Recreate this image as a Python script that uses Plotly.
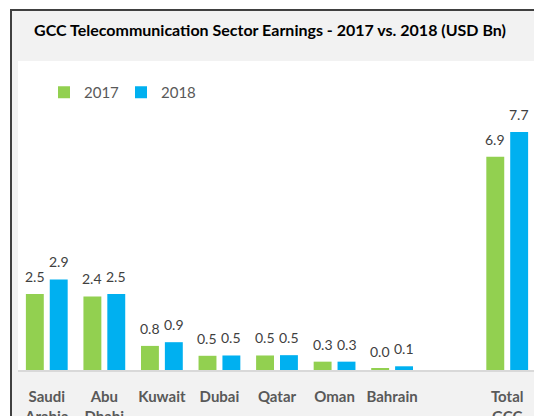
import plotly.graph_objects as go

categories = ["Saudi<br>Arabia", "Abu<br>Dhabi", "Kuwait", "Dubai", "Qatar",
              "Oman", "Bahrain", " ", "Total<br>GCC"]
earnings_2017 = [2.46, 2.38, 0.78, 0.46, 0.47, 0.27, 0.04, None, 6.9]
earnings_2018 = [2.93, 2.46, 0.90, 0.47, 0.48, 0.27, 0.12, None, 7.7]
series_names = ["2017", "2018"]

GREEN = "#92d050"
BLUE = "#00b0f0"
FONT = "Lato"

# the page body has an 8px margin, so the figure is 8px smaller than the window
OFF = 8
W, H = 542 - OFF, 416 - OFF
ML, MR, MT, MB = 10, 6, 53, 46
PW = W - ML - MR
PH = H - MT - MB


def px_to_paper_x(px):
    return (px - OFF - ML) / PW


def px_to_paper_y(py):
    return (H - MB - (py - OFF)) / PH


fig = go.Figure()
for name, vals, col in zip(series_names, [earnings_2017, earnings_2018], [GREEN, BLUE]):
    fig.add_trace(go.Bar(x=categories, y=vals, name=name, marker_color=col,
                         marker_line_width=0, hoverinfo="skip"))

annotations = []
for vals, shift in [(earnings_2017, -12), (earnings_2018, 12)]:
    for c, v in zip(categories, vals):
        if v is None:
            continue
        annotations.append(dict(x=c, y=v, xref="x", yref="y", text=f"{v:.1f}",
                                showarrow=False, xshift=shift, yshift=7,
                                yanchor="bottom",
                                font=dict(family=FONT, size=14, color="#404040")))

shapes = [
    dict(type="rect", xref="paper", yref="paper", layer="below",
         x0=px_to_paper_x(11), x1=px_to_paper_x(539.5),
         y0=px_to_paper_y(440), y1=px_to_paper_y(10),
         fillcolor="#f2f2f2", line=dict(color="#404040", width=2)),
    dict(type="rect", xref="paper", yref="paper", layer="below",
         x0=0, x1=1, y0=0, y1=1, fillcolor="white", line=dict(width=0)),
]

fig.update_layout(
    width=W, height=H,
    margin=dict(l=ML, r=MR, t=MT, b=MB, autoexpand=False),
    paper_bgcolor="white",
    plot_bgcolor="rgba(0,0,0,0)",
    barmode="group", bargap=0.17, bargroupgap=0.25,
    title=dict(text="GCC Telecommunication Sector Earnings - 2017 vs. 2018 (USD Bn)",
               x=(270 - OFF) / W, xanchor="center", y=1 - (30 - OFF) / H,
               yanchor="middle", yref="container",
               font=dict(family=FONT, size=16, color="#000000", weight="bold")),
    legend=dict(orientation="h", x=px_to_paper_x(44), xanchor="left",
                y=px_to_paper_y(76), yanchor="top",
                bgcolor="rgba(0,0,0,0)",
                font=dict(family=FONT, size=15, color="#595959"),
                entrywidth=32, entrywidthmode="pixels", itemclick=False),
    xaxis=dict(type="category", categoryorder="array", categoryarray=categories,
               range=[-0.5, len(categories) - 0.5], automargin=False,
               showline=True, linecolor="#d9d9d9", linewidth=2,
               ticks="", showgrid=False, zeroline=False,
               ticklabelstandoff=12,
               tickfont=dict(family=FONT, size=15, color="#595959", weight="bold")),
    yaxis=dict(range=[0, 10], visible=False, showgrid=False, zeroline=False,
               automargin=False),
    shapes=shapes,
    annotations=annotations,
)

fig.write_html("out.html")
